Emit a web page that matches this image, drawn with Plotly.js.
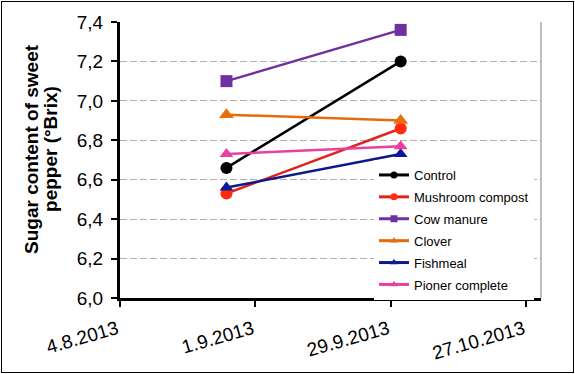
<!DOCTYPE html>
<html>
<head>
<meta charset="utf-8">
<script src="https://cdn.plot.ly/plotly-3.0.1.min.js"></script>
<style>
html,body{margin:0;padding:0;background:#fff;}
#wrap{position:relative;width:575px;height:374px;}
#chart{width:575px;height:374px;}
#frame{position:absolute;left:1px;top:1px;width:571px;height:370px;border:1px solid #000;pointer-events:none;}
</style>
</head>
<body>
<div id="wrap"><div id="chart"></div><div id="frame"></div></div>
<script>
// Data
var dates = ['2013-08-26', '2013-10-01'];
var seriesNames = ['Control', 'Mushroom compost', 'Cow manure', 'Clover', 'Fishmeal', 'Pioner complete'];
var control = [6.66, 7.20];
var mushroomCompost = [6.53, 6.86];
var cowManure = [7.10, 7.36];
var clover = [6.93, 6.90];
var fishmeal = [6.56, 6.73];
var pionerComplete = [6.73, 6.77];
var xTickVals = ['2013-08-04', '2013-09-01', '2013-09-29', '2013-10-27'];
var xTickText = ['4.8.2013', '1.9.2013', '29.9.2013', '27.10.2013'];
var yTitleLines = ['Sugar content of sweet', 'pepper (°Brix)'];

var seriesValues = [control, mushroomCompost, cowManure, clover, fishmeal, pionerComplete];
var styles = [
  {color: '#000000', mcolor: '#000000', symbol: 'circle', size: 12},
  {color: '#e0241c', mcolor: '#ff2a10', symbol: 'circle', size: 12},
  {color: '#7030a0', mcolor: '#7030a0', symbol: 'square', size: 12},
  {color: '#e46c0a', mcolor: '#e8700c', symbol: 'triangle-up', size: 13},
  {color: '#0c1a86', mcolor: '#0c1a9a', symbol: 'triangle-up', size: 12},
  {color: '#e8409e', mcolor: '#e8409e', symbol: 'triangle-up', size: 12}
];

var traces = [];
seriesValues.forEach(function (vals, i) {
  var s = styles[i];
  traces.push({
    type: 'scatter', mode: 'lines+markers', x: dates, y: vals,
    name: seriesNames[i], showlegend: false,
    line: {color: s.color, width: 2.5},
    marker: {color: s.mcolor, symbol: s.symbol, size: s.size}
  });
});
// legend entries (small markers, as in the reference legend)
seriesValues.forEach(function (vals, i) {
  var s = styles[i];
  traces.push({
    type: 'scatter', mode: 'lines+markers', x: [null], y: [null],
    name: seriesNames[i], showlegend: true, legendgroup: 'g' + i,
    line: {color: s.color, width: 3},
    marker: {color: s.mcolor, symbol: s.symbol, size: 7}
  });
});

var titleFont = {size: 19, family: 'Liberation Sans, Arial, sans-serif', weight: 'bold', color: '#000'};

var layout = {
  width: 575, height: 374,
  margin: {l: 120, r: 34, t: 22, b: 76},
  paper_bgcolor: '#ffffff', plot_bgcolor: '#ffffff',
  separators: ',.',
  font: {family: 'Liberation Sans, Arial, sans-serif', color: '#000'},
  showlegend: true,
  legend: {
    x: 0.6033, xanchor: 'left', y: 0.500, yanchor: 'top',
    bgcolor: '#ffffff', borderwidth: 0,
    font: {size: 13, family: 'Liberation Sans, Arial, sans-serif', color: '#000'},
    tracegroupgap: 2, itemwidth: 30
  },
  xaxis: {
    type: 'date', range: ['2013-08-04', '2013-10-30'],
    tickmode: 'array', tickvals: xTickVals, ticktext: xTickText,
    tickangle: -16, tickfont: {size: 19},
    showgrid: false, zeroline: false,
    showline: true, linecolor: '#000', linewidth: 3,
    ticks: 'outside', ticklen: 6, tickwidth: 2, tickcolor: '#000',
    ticklabelstandoff: 4, ticklabelshift: -3
  },
  yaxis: {
    range: [6.0, 7.4], dtick: 0.2, tick0: 6.0, tickformat: '.1f',
    tickfont: {size: 19},
    showgrid: true, gridcolor: '#b0b0b0', griddash: '7px,3px', gridwidth: 1,
    zeroline: false,
    showline: true, linecolor: '#000', linewidth: 3,
    ticks: 'outside', ticklen: 6, tickwidth: 2, tickcolor: '#000',
    ticklabelstandoff: 4
  },
  shapes: [
    {type: 'line', xref: 'paper', yref: 'paper', x0: 1, x1: 1, y0: 0, y1: 1,
     line: {color: '#808080', width: 1}}
  ],
  annotations: [
    {text: yTitleLines[0], xref: 'paper', yref: 'paper', x: -0.209, y: 0.540,
     xanchor: 'center', yanchor: 'middle', textangle: -90, showarrow: false,
     font: titleFont},
    {text: yTitleLines[1], xref: 'paper', yref: 'paper', x: -0.1639, y: 0.540,
     xanchor: 'center', yanchor: 'middle', textangle: -90, showarrow: false,
     font: titleFont}
  ]
};

Plotly.newPlot('chart', traces, layout, {displayModeBar: false, staticPlot: true});
</script>
</body>
</html>
